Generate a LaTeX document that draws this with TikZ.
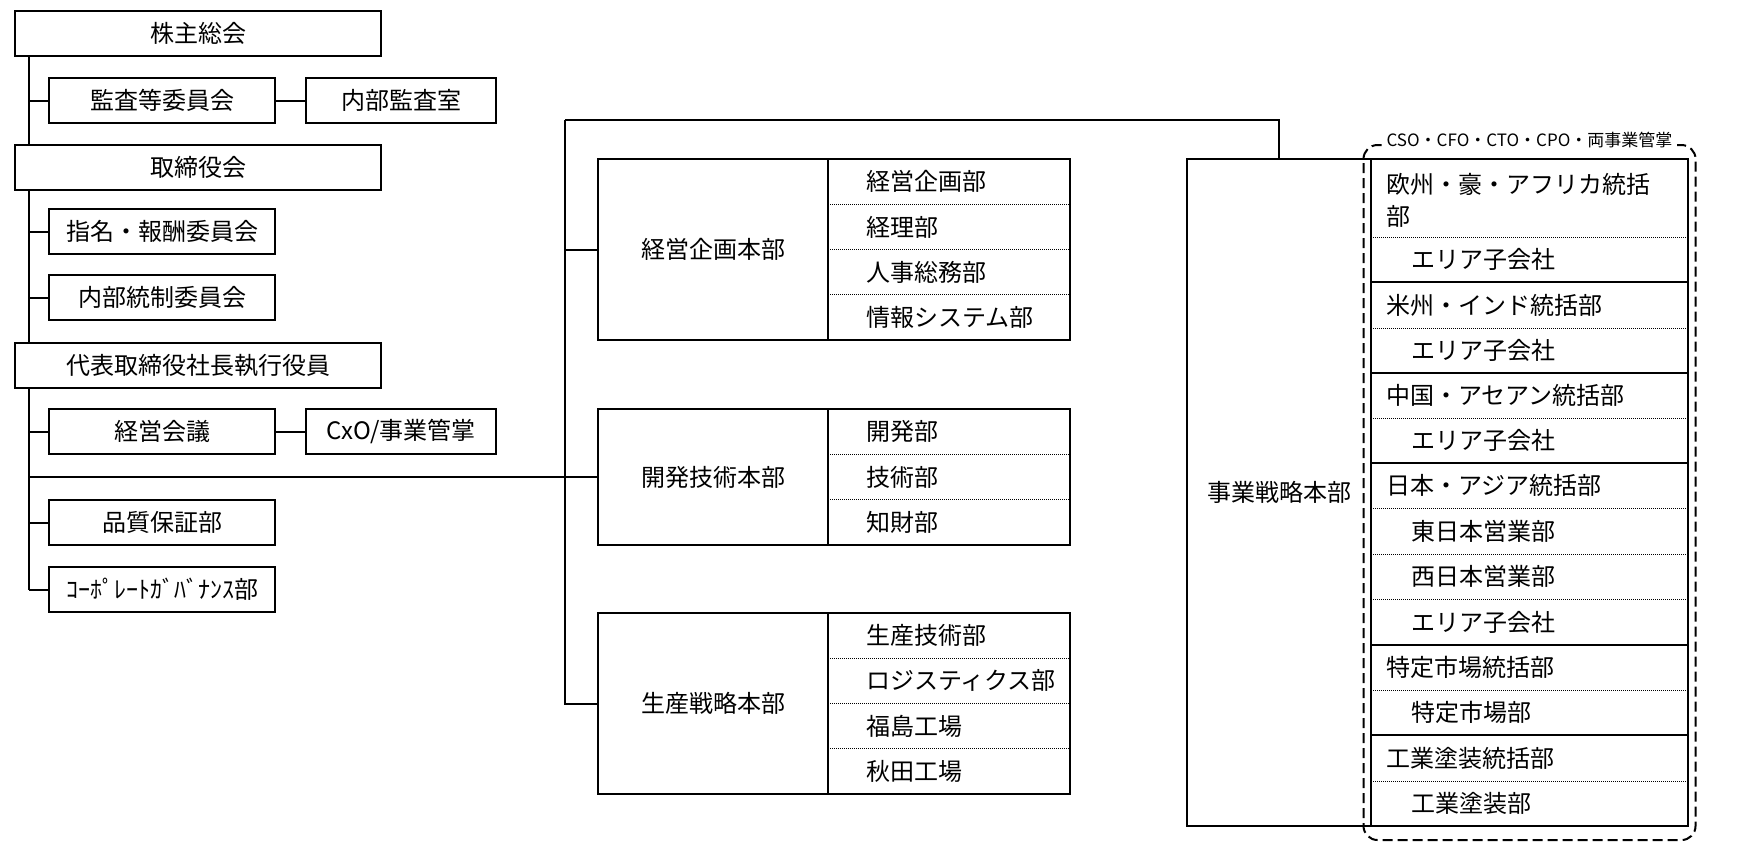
\documentclass[tikz,border=0pt]{standalone}
\usepackage{fontspec}
\newfontfamily\jpfont{Noto Sans CJK JP}
\usetikzlibrary{positioning,calc,fit}

\begin{document}
\begin{tikzpicture}[
  x=0.5pt, y=-0.5pt,
  font={\jpfont\fontsize{12pt}{16pt}\selectfont},
  line width=1pt,
  widebox/.style={draw, minimum width=183pt, minimum height=22.5pt, inner sep=0pt},
  smallbox/.style={draw, minimum width=113pt, minimum height=22.5pt, inner sep=0pt},
  sidebox/.style={draw, minimum width=95pt, minimum height=22.5pt, inner sep=0pt},
  headbox/.style={draw, minimum width=115pt, inner sep=0pt, outer sep=0pt},
  listbox/.style={draw, minimum width=121pt, inner sep=0pt, outer sep=0pt, anchor=west},
  entry/.style={anchor=west, inner sep=0pt},
  dotsep/.style={line width=0.5pt, dash pattern=on 0.5pt off 0.5pt},
  grpframe/.style={draw, line width=1pt, dash pattern=on 5pt off 2.5pt, rounded corners=7pt},
  grplabel/.style={fill=white, inner sep=2.5pt, font={\jpfont\fontsize{8.5pt}{10pt}\selectfont}}
]
  \useasboundingbox (0,0) rectangle (1738,853);

  \node[widebox] (agm) at (198,33.5) {株主総会};
  \node[smallbox] (audit) at (162,100.5) {監査等委員会};
  \node[sidebox] (iaudit) at (401,100.5) {内部監査室};
  \node[widebox] (board) at (198,167.5) {取締役会};
  \node[smallbox] (nomin) at (162,231.5) {指名・報酬委員会};
  \node[smallbox] (ictrl) at (162,297.5) {内部統制委員会};
  \node[widebox] (ceo) at (198,365.5) {代表取締役社長執行役員};
  \node[smallbox] (mgmt) at (162,431.5) {経営会議};
  \node[sidebox] (cxo) at (401,431.5) {CxO/事業管掌};
  \node[smallbox] (qa) at (162,522.5) {品質保証部};
  \node[smallbox] (govern) at (162,589.5) {ｺｰﾎﾟﾚｰﾄｶﾞﾊﾞﾅﾝｽ部};

  \coordinate (trunk) at (29,0);
  \draw (agm.south -| trunk) -- (board.north -| trunk);
  \draw (board.south -| trunk) -- (ceo.north -| trunk);
  \draw (ceo.south -| trunk) -- (govern.west -| trunk);
  \foreach \n in {audit,nomin,ictrl,mgmt,qa,govern}
    \draw (\n.west -| trunk) -- (\n.west);
  \draw (audit.east) -- (iaudit.west);
  \draw (mgmt.east) -- (cxo.west);

  \node[headbox, minimum height=90.5pt] (plan) at (713,249.5) {経営企画本部};
  \node[listbox, minimum height=90.5pt] (planlist) at (plan.east) {};
  \foreach \t [count=\i] in {経営企画部,経理部,人事総務部,情報システム部}
    \node[entry] (plan\i) at ($(planlist.north west)+(37,45.25*\i-22.6)$) {\t};
  \foreach \i in {1,2,3}
    \draw[dotsep] ($(planlist.north west)+(0,45.25*\i)$) -- ($(planlist.north east)+(0,45.25*\i)$);

  \node[headbox, minimum height=68pt] (dev) at (713,477) {開発技術本部};
  \node[listbox, minimum height=68pt] (devlist) at (dev.east) {};
  \foreach \t [count=\i] in {開発部,技術部,知財部}
    \node[entry] (dev\i) at ($(devlist.north west)+(37,45.33*\i-22.6)$) {\t};
  \foreach \i in {1,2}
    \draw[dotsep] ($(devlist.north west)+(0,45.33*\i)$) -- ($(devlist.north east)+(0,45.33*\i)$);

  \node[headbox, minimum height=90.5pt] (prod) at (713,703.5) {生産戦略本部};
  \node[listbox, minimum height=90.5pt] (prodlist) at (prod.east) {};
  \foreach \t [count=\i] in {生産技術部,ロジスティクス部,福島工場,秋田工場}
    \node[entry] (prod\i) at ($(prodlist.north west)+(37,45.25*\i-22.6)$) {\t};
  \foreach \i in {1,2,3}
    \draw[dotsep] ($(prodlist.north west)+(0,45.25*\i)$) -- ($(prodlist.north east)+(0,45.25*\i)$);

  \node[draw, minimum width=92pt, minimum height=333.5pt, inner sep=0pt, outer sep=0pt] (biz) at (1279,492.5) {事業戦略本部};
  \node[draw, minimum width=158.5pt, minimum height=333.5pt, inner sep=0pt, outer sep=0pt, anchor=west] (bizlist) at (biz.east) {};

  \node[grpframe, fit=(bizlist), inner xsep=3.75pt, inner ysep=7pt] (grp) {};
  \node[grplabel] (grptitle) at ([yshift=2pt]grp.north) {CSO・CFO・CTO・CPO・両事業管掌};

  \node[entry, align=left] (area1) at (1385,200) {欧州・豪・アフリカ統括\\部};
  \foreach \x/\y/\t [count=\i] in {1410/259.5/エリア子会社, 1385/305/米州・インド統括部,
      1410/350.5/エリア子会社, 1385/395.5/中国・アセアン統括部, 1410/440.5/エリア子会社,
      1385/485.5/日本・アジア統括部, 1410/531/東日本営業部, 1410/576.5/西日本営業部,
      1410/622/エリア子会社, 1385/667.5/特定市場統括部, 1410/712.5/特定市場部,
      1385/758/工業塗装統括部, 1410/803.5/工業塗装部}
    \node[entry] (bizrow\i) at (\x,\y) {\t};
  \foreach \d in {78,169,259,349,395,440,531,622}
    \draw[dotsep] ($(bizlist.north west)+(0,\d)$) -- ($(bizlist.north east)+(0,\d)$);
  \foreach \d in {123,214,304,486,576}
    \draw ($(bizlist.north west)+(0,\d)$) -- ($(bizlist.north east)+(0,\d)$);

  \coordinate (bus) at (565,120);
  \draw (bus) -- (bus -| biz.north) -- (biz.north);
  \draw (bus) -- (prod.west -| bus) -- (prod.west);
  \draw (plan.west -| bus) -- (plan.west);
  \draw (dev.west -| trunk) -- (dev.west);
\end{tikzpicture}
\end{document}
